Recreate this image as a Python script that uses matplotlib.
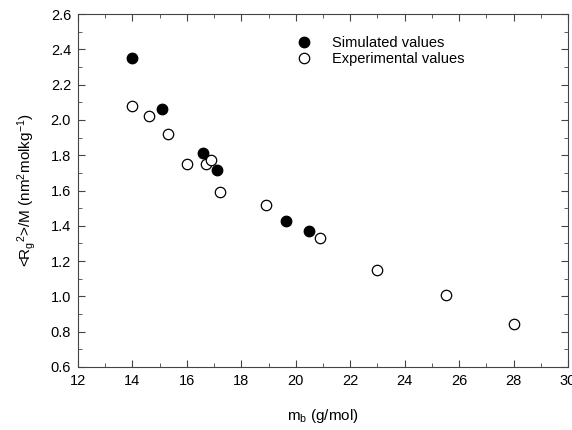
import numpy as np
import matplotlib.pyplot as plt
from matplotlib.ticker import MultipleLocator

plt.rcParams['font.family'] = ['Liberation Sans', 'DejaVu Sans']
plt.rcParams['mathtext.default'] = 'regular'

# simulated values
sim_x = [14.0, 15.1, 16.6, 17.1, 19.65, 20.5]
sim_y = [2.35, 2.06, 1.815, 1.715, 1.43, 1.37]

# experimental values
exp_x = [14.0, 14.6, 15.3, 16.0, 16.7, 16.9, 17.2, 18.9, 20.9, 23.0, 25.5, 28.0]
exp_y = [2.08, 2.02, 1.92, 1.75, 1.75, 1.77, 1.59, 1.52, 1.33, 1.15, 1.01, 0.845]

fig = plt.figure(figsize=(5.72, 4.3), dpi=100)
ax = fig.add_axes([78/572, 1-367/430, 490/572, 353/430])

ax.plot(sim_x, sim_y, 'o', color='black', markersize=7.5, label='Simulated values')
ax.plot(exp_x, exp_y, 'o', markerfacecolor='white', markeredgecolor='black',
        markersize=7.5, markeredgewidth=0.9, label='Experimental values')

ax.set_xlim(12, 30)
ax.set_ylim(0.6, 2.6)
ax.xaxis.set_major_locator(MultipleLocator(2))
ax.xaxis.set_minor_locator(MultipleLocator(1))
ax.yaxis.set_major_locator(MultipleLocator(0.2))
ax.yaxis.set_minor_locator(MultipleLocator(0.1))
ax.yaxis.set_major_formatter(plt.FormatStrFormatter('%.1f'))
ax.tick_params(which='both', direction='in', top=True, right=True, labelsize=10.5, color='#444444')
ax.tick_params(which='major', length=5, pad=5)
ax.tick_params(which='minor', length=3)
for s in ax.spines.values():
    s.set_color('#444444')

ax.set_xlabel('m$_b$ (g/mol)', fontsize=11, labelpad=14)
ax.set_ylabel('<R$_g$$^2$>/M (nm$^2$molkg$^{-1}$)', fontsize=11, labelpad=9)

ax.legend(loc='upper left', bbox_to_anchor=(0.405, 0.975), frameon=False,
          fontsize=10.5, handletextpad=0.9, labelspacing=0.15)

fig.savefig('out.png', dpi=100)
